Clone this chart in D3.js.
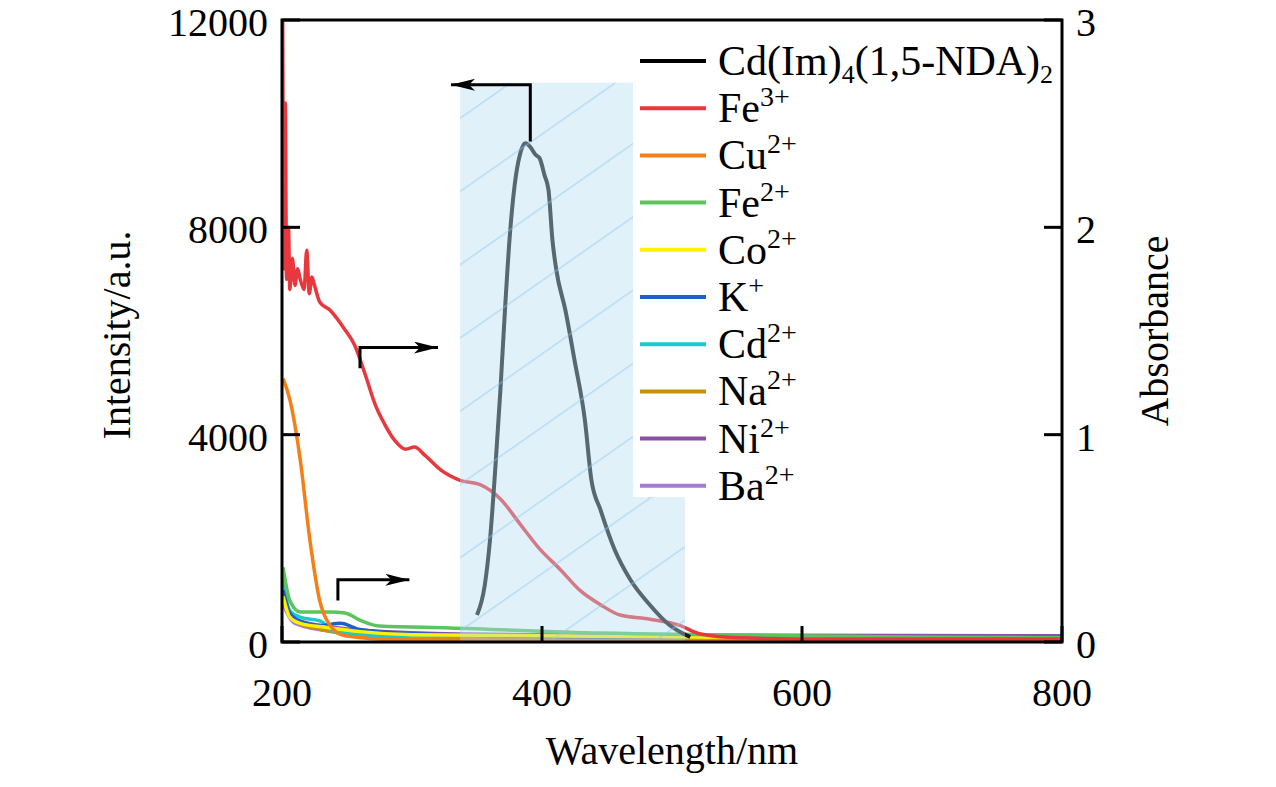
<!DOCTYPE html>
<html><head><meta charset="utf-8">
<script src="https://cdn.jsdelivr.net/npm/d3@7"></script>
<style>body{margin:0;background:#fff} svg text{font-family:"DejaVu Serif",serif;} svg text.t{font-family:"Liberation Serif";}</style>
</head><body><svg id="c" width="1276" height="787"></svg>
<script>
// emission (left axis, intensity)
const emission = [[350,520],[356,1100],[360,1970],[364,3320],[368,4860],[371.5,6400],[375,7760],[379,8820],[383,9400],[387,9620],[389,9600],[391,9550],[395,9400],[398,9340],[402,9000],[405,8720],[408,7760],[411,7180],[418,6400],[425,5440],[433,4280],[438,3125],[445,2550],[456,1775],[468,1200],[483,714],[498,328],[514,96]];
// absorbance (right axis)
const fe3 = [[200.5,3.05],[201.5,1.8],[202.5,2.6],[203.5,1.75],[205,2.0],[206,1.70],[208,1.85],[210,1.72],[212,1.8],[214,1.75],[217,1.70],[219,1.89],[221,1.68],[223,1.76],[225,1.72],[229,1.64],[237,1.60],[248,1.51],[256,1.43],[264,1.29],[272,1.14],[279,1.05],[287,0.97],[295,0.93],[302,0.94],[310,0.90],[322,0.83],[337,0.78],[352,0.76],[368,0.69],[383,0.57],[398,0.45],[414,0.35],[429,0.25],[445,0.18],[460,0.13],[483,0.11],[506,0.08],[521,0.04],[552,0.02],[600,0.015],[800,0.015]];
const cu2 = [[200.8,1.27],[206,1.17],[214,0.88],[221.5,0.49],[229,0.2],[237,0.08],[248.5,0.03],[291,0.01],[800,0.005]];
const fe2 = [[200.8,0.36],[206,0.2],[214,0.145],[237,0.145],[248.5,0.14],[260,0.105],[275,0.077],[329,0.068],[445,0.043],[800,0.02]];
const co2 = [[200.8,0.22],[206,0.12],[214,0.09],[235,0.07],[260,0.05],[300,0.035],[800,0.01]];
const k1 = [[200.8,0.25],[206,0.14],[214,0.1],[230,0.08],[245,0.09],[260,0.06],[300,0.04],[500,0.02],[800,0.015]];
const cd2 = [[200.8,0.3],[206,0.15],[214,0.12],[230,0.1],[240,0.05],[280,0.03],[800,0.01]];
const na2 = [[200.8,0.2],[210,0.1],[230,0.06],[260,0.03],[300,0.015],[800,0.005]];
const ni2 = [[200.8,0.22],[210,0.11],[240,0.07],[300,0.045],[400,0.035],[800,0.03]];
const ba2 = [[200.8,0.18],[210,0.09],[240,0.05],[300,0.03],[800,0.02]];

const absSeries = [
  {name:"Fe", sup:"3+", data:fe3, color:"#e8383d"},
  {name:"Cu", sup:"2+", data:cu2, color:"#f57f17"},
  {name:"Fe", sup:"2+", data:fe2, color:"#5cc45c"},
  {name:"Co", sup:"2+", data:co2, color:"#fff200"},
  {name:"K", sup:"+", data:k1, color:"#1f5fcc"},
  {name:"Cd", sup:"2+", data:cd2, color:"#1ec8d0"},
  {name:"Na", sup:"2+", data:na2, color:"#c8900c"},
  {name:"Ni", sup:"2+", data:ni2, color:"#8a4fa8"},
  {name:"Ba", sup:"2+", data:ba2, color:"#a878d8"}
];
const xTicks = [200,400,600,800], yTicks = [0,4000,8000,12000], y2Ticks = [0,1,2,3];

const svg = d3.select("#c");
const L=282, R=1062, T=20, B=642;
const x = d3.scaleLinear().domain([200,800]).range([L,R]);
const y = d3.scaleLinear().domain([0,12000]).range([B,T]);
const y2 = d3.scaleLinear().domain([0,3]).range([B,T]);

svg.append("clipPath").attr("id","clip").append("rect").attr("x",L).attr("y",T).attr("width",R-L).attr("height",B-T);
const g = svg.append("g").attr("clip-path","url(#clip)");
const line2 = d3.line().x(d=>x(d[0])).y(d=>y2(d[1])).curve(d3.curveMonotoneX);
absSeries.slice().reverse().forEach(s=>{
  g.append("path").attr("d",line2(s.data)).attr("fill","none").attr("stroke",s.color).attr("stroke-width",3.5);
});
g.append("path").attr("d",d3.line().x(d=>x(d[0])).y(d=>y(d[1])).curve(d3.curveMonotoneX)(emission)).attr("fill","none").attr("stroke","#1a1a1a").attr("stroke-width",4);

// shaded band with hatching
const defs = svg.append("defs");
const pat = defs.append("pattern").attr("id","hatch").attr("patternUnits","userSpaceOnUse").attr("width",60).attr("height",60).attr("patternTransform","rotate(-35)");
pat.append("rect").attr("width",60).attr("height",60).attr("fill","rgba(180,220,242,0.4)");
pat.append("line").attr("x1",0).attr("y1",0).attr("x2",60).attr("y2",0).attr("stroke","rgba(140,200,235,0.5)").attr("stroke-width",3);
g.append("rect").attr("x",x(337)).attr("y",y(10790)).attr("width",x(510)-x(337)).attr("height",B-y(10790)).attr("fill","url(#hatch)");

// legend background
svg.append("rect").attr("x",x(470)).attr("y",T+2).attr("width",R-x(470)-2).attr("height",475).attr("fill","#fff");

// frame
svg.append("rect").attr("x",L).attr("y",T).attr("width",R-L).attr("height",B-T).attr("fill","none").attr("stroke","#000").attr("stroke-width",3);
xTicks.forEach(t=>{
  svg.append("line").attr("x1",x(t)).attr("x2",x(t)).attr("y1",B).attr("y2",B-16).attr("stroke","#000").attr("stroke-width",3);
  svg.append("text").attr("class","t").attr("x",x(t)).attr("y",B+64).attr("text-anchor","middle").attr("font-size",40).text(t);
});
yTicks.forEach(t=>{
  svg.append("line").attr("x1",L).attr("x2",L+18).attr("y1",y(t)).attr("y2",y(t)).attr("stroke","#000").attr("stroke-width",3);
  svg.append("text").attr("class","t").attr("x",L-14).attr("y",y(t)+16).attr("text-anchor","end").attr("font-size",40).text(t);
});
y2Ticks.forEach(t=>{
  svg.append("line").attr("x1",R).attr("x2",R-18).attr("y1",y2(t)).attr("y2",y2(t)).attr("stroke","#000").attr("stroke-width",3);
  svg.append("text").attr("class","t").attr("x",R+14).attr("y",y2(t)+16).attr("font-size",40).text(t);
});
svg.append("text").attr("class","t").attr("x",672).attr("y",764).attr("text-anchor","middle").attr("font-size",40).text("Wavelength/nm");
svg.append("text").attr("class","t").attr("transform","translate(130,335) rotate(-90)").attr("text-anchor","middle").attr("font-size",40).text("Intensity/a.u.");
svg.append("text").attr("class","t").attr("transform","translate(1168,331) rotate(-90)").attr("text-anchor","middle").attr("font-size",40).text("Absorbance");

// annotation arrows
defs.append("marker").attr("id","ah").attr("viewBox","0 0 20 10").attr("refX",20).attr("refY",5).attr("markerWidth",24).attr("markerHeight",12).attr("markerUnits","userSpaceOnUse").attr("orient","auto")
  .append("path").attr("d","M0,0L20,5L0,10L5,5Z").attr("fill","#000");
function arrow(pts){svg.append("path").attr("d",d3.line()(pts)).attr("fill","none").attr("stroke","#000").attr("stroke-width",3).attr("marker-end","url(#ah)");}
arrow([[x(391),y(9600)-3],[x(391),y(10750)],[x(330),y(10750)]]);
arrow([[x(260),y2(1.32)],[x(260),y2(1.42)],[x(320),y2(1.42)]]);
arrow([[x(243),y2(0.2)],[x(243),y2(0.3)],[x(298),y2(0.3)]]);

// legend
const leg = [{name:"Cd(Im)",color:"#000"}].concat(absSeries);
leg.forEach((s,i)=>{
  const yy = 61 + i*47.2;
  svg.append("line").attr("x1",640).attr("x2",706).attr("y1",yy).attr("y2",yy).attr("stroke",s.color).attr("stroke-width",4);
  const t = svg.append("text").attr("class","t").attr("x",718).attr("y",yy+14).attr("font-size",42);
  if(i===0){
    t.append("tspan").text("Cd(Im)");
    t.append("tspan").attr("font-size",26).attr("dy",8).text("4");
    t.append("tspan").attr("dy",-8).text("(1,5-NDA)");
    t.append("tspan").attr("font-size",26).attr("dy",8).text("2");
  } else {
    t.append("tspan").text(s.name);
    t.append("tspan").attr("font-size",28).attr("dy",-16).text(s.sup);
  }
});
</script></body></html>
